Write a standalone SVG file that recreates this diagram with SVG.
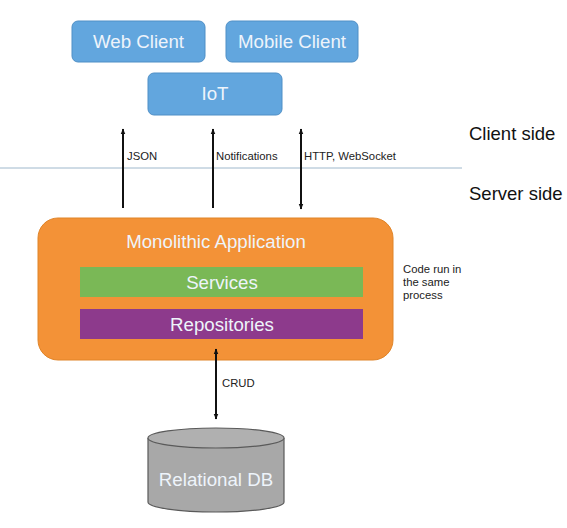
<svg xmlns="http://www.w3.org/2000/svg" width="567" height="528" viewBox="0 0 567 528">
<defs>
<marker id="ah" viewBox="0 0 10 10" refX="9" refY="5" markerWidth="6" markerHeight="6" orient="auto-start-reverse" markerUnits="userSpaceOnUse">
<path d="M0,1 L10,5 L0,9 z" fill="#111"/>
</marker>
<style>
.client{fill:#62a6de;stroke:#4f8fc6;stroke-width:1}
.ctext{font-family:"Liberation Sans",Arial,sans-serif;font-size:18.7px;fill:#eef4fb;text-anchor:middle}
.lbl{font-family:"Liberation Sans",Arial,sans-serif;font-size:11.3px;fill:#222}
.side{font-family:"Liberation Sans",Arial,sans-serif;font-size:18.5px;fill:#111}
.conn{stroke:#111;stroke-width:2;fill:none}
</style>
</defs>
<rect width="567" height="528" fill="#ffffff"/>
<g id="web-client">
<rect class="client" x="72" y="21" width="133" height="41" rx="6"/>
<text class="ctext" x="138.5" y="48">Web Client</text>
</g>
<g id="mobile-client">
<rect class="client" x="226" y="21" width="132" height="41" rx="6"/>
<text class="ctext" x="292" y="48">Mobile Client</text>
</g>
<g id="iot">
<rect class="client" x="148" y="73" width="134" height="42" rx="6"/>
<text class="ctext" x="215" y="100">IoT</text>
</g>
<g id="divider">
<line x1="0" y1="168" x2="462" y2="168" stroke="#9fb8cc" stroke-width="1"/>
<text class="side" x="469" y="140">Client side</text>
<text class="side" x="469" y="200">Server side</text>
</g>
<g id="monolith">
<rect x="38" y="218" width="355" height="142" rx="20" fill="#f39237" stroke="#e08428" stroke-width="1"/>
<text class="ctext" x="216" y="248">Monolithic Application</text>
</g>
<g id="services">
<rect x="80" y="267" width="283" height="30" fill="#7ab856"/>
<text class="ctext" x="222" y="289">Services</text>
</g>
<g id="repositories">
<rect x="80" y="309" width="283" height="30" fill="#8d3a8c"/>
<text class="ctext" x="222" y="331">Repositories</text>
</g>
<g id="note">
<text class="lbl" x="403" y="273">Code run in</text>
<text class="lbl" x="403" y="286">the same</text>
<text class="lbl" x="403" y="299">process</text>
</g>
<g id="relational-db">
<path d="M148,438 L148,502 A68,10 0 0 0 284,502 L284,438" fill="#a8a8a8" stroke="#5a5a5a" stroke-width="1.2"/>
<ellipse cx="216" cy="438" rx="68" ry="10" fill="#b0b0b0" stroke="#5a5a5a" stroke-width="1.2"/>
<text class="ctext" x="216" y="486">Relational DB</text>
</g>
<g id="connectors">
<line class="conn" x1="123" y1="208" x2="123" y2="129" marker-end="url(#ah)"/>
<text class="lbl" x="127" y="160">JSON</text>
<line class="conn" x1="213" y1="208" x2="213" y2="129" marker-end="url(#ah)"/>
<text class="lbl" x="216" y="160">Notifications</text>
<line class="conn" x1="301" y1="129" x2="301" y2="209" marker-start="url(#ah)" marker-end="url(#ah)"/>
<text class="lbl" x="304" y="160">HTTP, WebSocket</text>
<line class="conn" x1="216" y1="349" x2="216" y2="419" marker-start="url(#ah)" marker-end="url(#ah)"/>
<text class="lbl" x="222" y="387">CRUD</text>
</g>
</svg>
